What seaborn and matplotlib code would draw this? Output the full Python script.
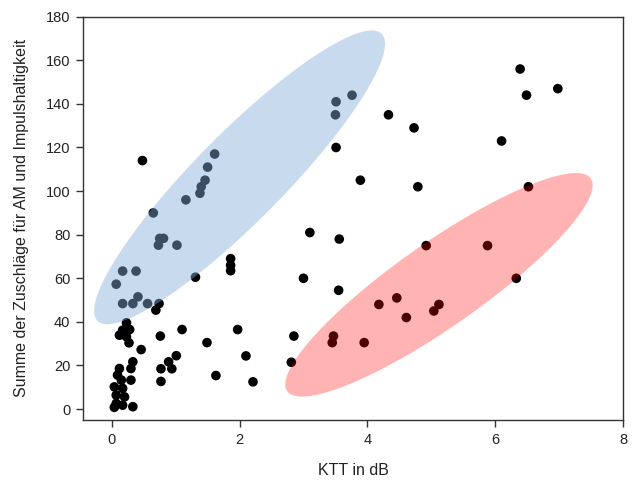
import numpy as np
import pandas as pd
import matplotlib
matplotlib.use("Agg")
import matplotlib.pyplot as plt
import seaborn as sns

# ---- data ----
ktt = [6.39, 6.98, 6.49, 4.33, 4.73, 6.10, 3.51, 3.89, 4.79, 6.52, 3.10, 3.56, 4.92, 5.88,
       3.00, 3.55, 6.33, 4.18, 4.46, 4.61, 5.12, 5.04, 2.85, 3.47, 3.45, 3.95, 2.81,
       3.76, 3.51, 3.50,
       1.86, 1.86, 1.86, 1.31, 1.97, 2.10, 2.21, 1.63, 1.49, 1.10, 1.01, 0.89, 0.94, 0.77,
       0.77, 0.76, 0.69, 0.46,
       1.61, 1.50, 1.46, 1.40, 1.38, 1.16, 0.75, 0.81, 0.73, 1.02, 0.17, 0.38, 0.07, 0.17,
       0.33, 0.41, 0.56, 0.74, 0.23,
       0.48, 0.65,
       0.17, 0.28, 0.12, 0.23, 0.27, 0.33, 0.30, 0.12, 0.09, 0.15, 0.30, 0.04, 0.17, 0.07,
       0.20, 0.07, 0.17, 0.33, 0.04]
zuschlag = [156, 147, 144, 135, 129, 123, 120, 105, 102, 102, 81, 78, 75, 75,
            60, 54.5, 60, 48, 51, 42, 48, 45, 33.5, 33.5, 30.5, 30.5, 21.5,
            144, 141, 135,
            69, 66, 63.5, 60.5, 36.5, 24.4, 12.5, 15.4, 30.5, 36.5, 24.5, 21.7, 18.5, 18.5,
            12.7, 33.5, 45.4, 27.3,
            117, 111, 105, 102, 99, 96, 78.3, 78.3, 75.2, 75.2, 63.3, 63.3, 57.3, 48.4,
            48.4, 51.5, 48.4, 48.4, 39.6,
            114, 90,
            36.2, 36.5, 33.9, 33.2, 30.4, 21.7, 18.6, 18.6, 15.6, 13.3, 13.3, 10.2, 9.5, 6.4,
            5.6, 2.6, 1.8, 1.1, 0.8]

x_ticks = [0, 2, 4, 6, 8]
y_ticks = [0, 20, 40, 60, 80, 100, 120, 140, 160, 180]

# highlight ellipses: centre (data), half axes (in x-units, isotropic on screen), angle (deg)
blue_ellipse = dict(cx=2.0, cy=106.3, a=3.16, b=0.69, angle=45.3)
red_ellipse = dict(cx=5.12, cy=57.0, a=2.90, b=0.66, angle=35.0)

df = pd.DataFrame({"KTT": ktt, "Summe": zuschlag})

sns.set_theme(style="white")
plt.rcParams["font.family"] = ["Liberation Sans", "DejaVu Sans"]

fig = plt.figure(figsize=(6.32, 4.88), dpi=100)
ax = fig.add_axes([83 / 632, 1 - 420 / 488, (623 - 83) / 632, (420 - 16.7) / 488])

sns.scatterplot(data=df, x="KTT", y="Summe", ax=ax, color="black", s=48,
                edgecolor="none", linewidth=0, zorder=2)

ax.set_xlim(-0.45, 8)
ax.set_ylim(-5, 180)
ax.set_xticks(x_ticks)
ax.set_yticks(y_ticks)

# aspect factor (screen px per y unit / px per x unit)
bbox = ax.get_window_extent()
kx = bbox.width / (8 + 0.45)
ky = bbox.height / 185.0
k = ky / kx


def ellipse_poly(cx, cy, a, b, angle):
    t = np.linspace(0, 2 * np.pi, 300)
    th = np.deg2rad(angle)
    u = a * np.cos(t) * np.cos(th) - b * np.sin(t) * np.sin(th)
    v = a * np.cos(t) * np.sin(th) + b * np.sin(t) * np.cos(th)
    return cx + u, cy + v / k


bx, by = ellipse_poly(**blue_ellipse)
ax.fill(bx, by, color=(0.52, 0.68, 0.86), alpha=0.45, lw=0, zorder=3)
rx, ry = ellipse_poly(**red_ellipse)
ax.fill(rx, ry, color=(1.0, 0.02, 0.0), alpha=0.3, lw=0, zorder=3)

for sp in ax.spines.values():
    sp.set_color("#333333")
    sp.set_linewidth(1.0)
ax.tick_params(axis="both", which="both", direction="out", length=5, width=1,
               color="#333333", labelsize=10.5, labelcolor="#222222",
               bottom=True, left=True, top=False, right=False, pad=4)

ax.set_xlabel("KTT in dB", fontsize=11.5, color="#222222", labelpad=12)
ax.set_ylabel("Summe der Zuschläge für AM und Impulshaltigkeit", fontsize=11.5,
              color="#222222", labelpad=12)
ax.grid(False)

fig.savefig("out.png", dpi=100)
